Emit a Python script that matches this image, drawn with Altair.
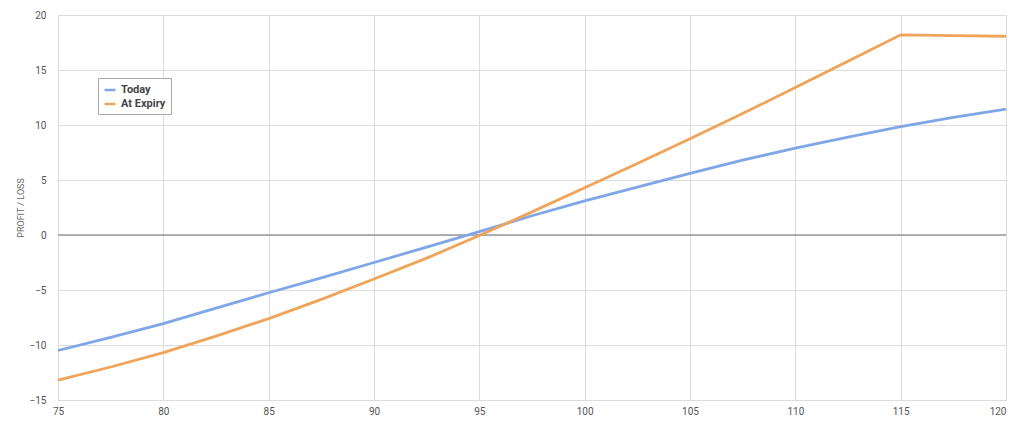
import altair as alt
import pandas as pd

prices = [75, 77.5, 80, 82.5, 85, 87.5, 90, 92.5, 95, 97.5, 100, 102.5, 105, 107.5, 110, 112.5, 115, 117.5, 120]
today = [-10.5, -9.3, -8.05, -6.65, -5.25, -3.9, -2.5, -1.1, 0.3, 1.75, 3.1, 4.35, 5.6, 6.8, 7.9, 8.9, 9.85, 10.7, 11.45]
expiry = [-13.2, -12.0, -10.7, -9.2, -7.6, -5.85, -4.0, -2.1, -0.05, 2.1, 4.3, 6.5, 8.75, 11.05, 13.4, 15.8, 18.2, 18.13, 18.07]
series_names = ["Today", "At Expiry"]
colors = ["#7FA6E6", "#EFA459"]

rows = []
for i, p in enumerate(prices):
    rows.append({"price": p, "pl": today[i], "series": series_names[0]})
    rows.append({"price": p, "pl": expiry[i], "series": series_names[1]})
df = pd.DataFrame(rows)

FONT = "Liberation Sans Narrow, Roboto, sans-serif"

x = alt.X("price:Q", title=None,
          scale=alt.Scale(domain=[75, 120], nice=False, zero=False),
          axis=alt.Axis(values=list(range(75, 121, 5)), grid=True, gridColor="#dddddd",
                        domain=False, ticks=False, labelPadding=6, labelColor="#555555",
                        labelFontSize=10, labelFont=FONT, labelFlush=False,
                        labelAlign=alt.ExprRef("datum.value == 120 ? 'right' : 'center'")))
y = alt.Y("pl:Q", title="PROFIT / LOSS",
          scale=alt.Scale(domain=[-15, 20], nice=False, zero=False),
          axis=alt.Axis(values=list(range(-15, 21, 5)), grid=True, gridColor="#dddddd",
                        domain=False, ticks=False, labelPadding=12, labelColor="#555555",
                        labelFontSize=10, labelFont=FONT, titleFont=FONT,
                        titleFontSize=9, titleFontWeight="normal", titleColor="#666666",
                        titleX=-33))

lines = alt.Chart(df).mark_line(strokeWidth=2.8).encode(
    x=x, y=y,
    color=alt.Color("series:N", title=None,
                    scale=alt.Scale(domain=series_names, range=colors),
                    sort=series_names,
                    legend=alt.Legend(orient="none", legendX=40, legendY=63,
                                      symbolType="stroke", symbolStrokeWidth=2.5,
                                      symbolSize=120, strokeColor="#aaaaaa",
                                      fillColor="white", padding=5,
                                      labelFont=FONT, labelFontSize=11,
                                      labelFontWeight="bold", labelColor="#444444",
                                      rowPadding=2))
)

zero = alt.Chart(pd.DataFrame({"pl": [0]})).mark_rule(color="#999999", strokeWidth=1.5).encode(y="pl:Q")

chart = alt.layer(zero, lines).properties(
    width=948, height=385,
    autosize=alt.AutoSizeParams(type="none"),
    padding={"left": 50, "top": 7, "right": 10, "bottom": 22},
).configure_view(stroke="#dddddd").configure(background="white")

chart.save("out.html", embed_options={"renderer": "svg", "actions": False})
